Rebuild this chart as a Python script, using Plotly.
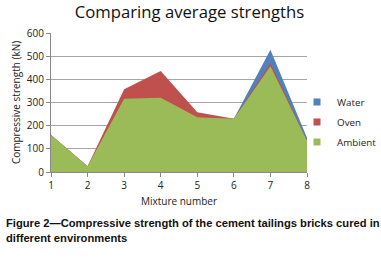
import plotly.graph_objects as go

mixtures = [1, 2, 3, 4, 5, 6, 7, 8]
water = [160, 25, 316, 320, 236, 230, 528, 148]
oven = [160, 25, 357, 436, 258, 230, 470, 137]
ambient = [160, 25, 316, 320, 236, 230, 456, 135]

series = [("Water", water, "#4F81BD"), ("Oven", oven, "#C0504D"), ("Ambient", ambient, "#9BBB59")]

fig = go.Figure()
for name, vals, col in series:
    fig.add_trace(go.Scatter(x=mixtures, y=vals, name=name, mode="lines",
                             line=dict(width=0, color=col), fill="tozeroy",
                             fillcolor=col, showlegend=False))
# legend entries (small squares, as in the reference)
for name, vals, col in series:
    fig.add_trace(go.Scatter(x=[None], y=[None], name=name, mode="markers",
                             legendgroup=name,
                             marker=dict(symbol="square", size=7, color=col)))

fig.update_layout(
    width=381, height=260,
    margin=dict(l=51, r=74, t=33, b=88, autoexpand=False),
    paper_bgcolor="white", plot_bgcolor="white",
    font=dict(family="Open Sans, sans-serif", size=10, color="#222"),
    title=dict(text="Comparing average strengths", x=189.5/381, xanchor="center",
               xref="container", y=0.955, yanchor="middle",
               font=dict(size=16.7, color="#111")),
    showlegend=True,
    legend=dict(x=0.961, y=0.36, xanchor="left", yanchor="middle",
                font=dict(size=9.8), itemwidth=30, tracegroupgap=1,
                bgcolor="rgba(0,0,0,0)"),
    xaxis=dict(range=[1, 8], tickvals=mixtures, showgrid=False, automargin=False,
               showline=True, linecolor="#888", ticks="outside", ticklen=4,
               tickcolor="#888", zeroline=False,
               title=dict(text="Mixture number", standoff=6, font=dict(size=10))),
    yaxis=dict(range=[0, 600], tickvals=[0, 100, 200, 300, 400, 500, 600],
               showgrid=True, gridcolor="#A6A6A6", gridwidth=1, automargin=False,
               showline=True, linecolor="#888", ticks="outside", ticklen=4,
               tickcolor="#888", zeroline=False,
               title=dict(text="Compressive strength (kN)", standoff=4, font=dict(size=10))),
    annotations=[
        dict(text="<b>Figure 2—Compressive strength of the cement tailings bricks cured in<br>different environments</b>",
             xref="paper", yref="paper", x=-47/256, y=-0.31, xanchor="left", yanchor="top",
             align="left", showarrow=False,
             font=dict(family="Liberation Sans, Arial", size=11.2, color="#111"))
    ],
)
fig.write_html("out.html", config={"displayModeBar": False},
               post_script="document.body.style.margin='0px';document.body.style.padding='0px';")
